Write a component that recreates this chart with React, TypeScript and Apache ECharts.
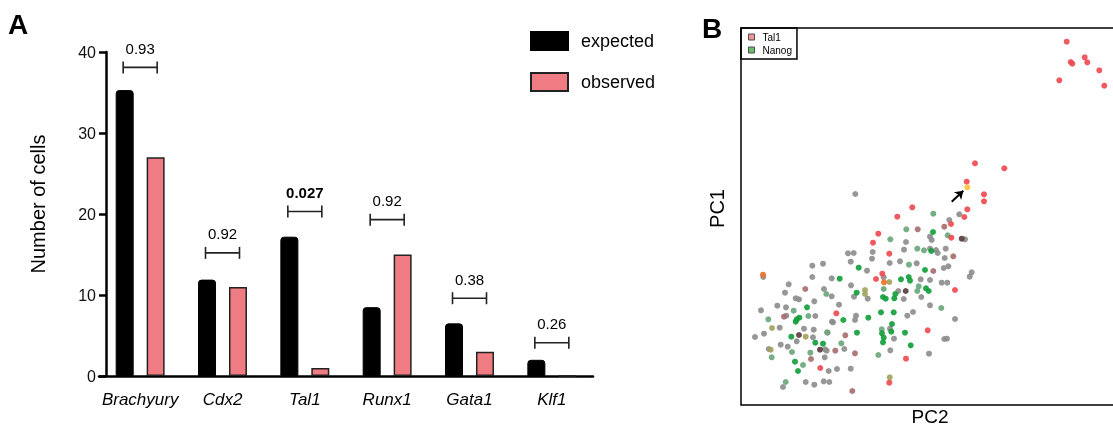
import React, { useEffect, useRef } from "react";
import * as echarts from "echarts";

const FONT = "'Liberation Sans', Arial, sans-serif";

// ---------- Panel A data ----------
const categories = ["Brachyury", "Cdx2", "Tal1", "Runx1", "Gata1", "Klf1"];
const expected = [35.3, 11.9, 17.2, 8.5, 6.5, 2.0];
const observed = [27, 11, 1, 15, 3, 0];
const pValues = ["0.93", "0.92", "0.027", "0.92", "0.38", "0.26"];
const pSignificant = [false, false, true, false, false, false];
const bracketLevels = [38.1, 15.2, 20.3, 19.3, 9.6, 4.1];
const yTicks = { min: 0, max: 40, interval: 10 };

// ---------- Panel B data (PC2, PC1 in arbitrary units) ----------
const tal1Points: [number, number][] = [
  [225.7, 223.3], [243, 210.7], [243, 203.7], [171.3, 197.7], [156.3, 188.3],
  [226.3, 195.7], [223.3, 188], [210, 181], [210.3, 167.3], [137.3, 171.3],
  [132, 162.3], [148.3, 151.3], [141.3, 131.3], [135, 126], [214, 115],
  [95.3, 91.7], [186.7, 74.7], [165, 46.3], [79.3, 37], [148.3, 22.3],
  [234, 241.7], [263.3, 236.7],
  [325.7, 363.3], [318.3, 324.7], [329.7, 343], [331.3, 341.3], [343.7, 347.7],
  [346.3, 342.7], [358.3, 334.7], [363.3, 319.3],
];
const nanogPoints: [number, number][] = [
  [192, 173], [190.3, 154], [117.7, 137.3], [184, 135], [98.7, 126.3],
  [160, 125.7], [167.7, 128], [169, 124.3], [115.7, 112.3], [142, 108],
  [144.7, 106.3], [154.3, 111], [153.3, 106.7], [185, 116.7], [187.7, 114],
  [55.7, 85.7], [54.7, 83.3], [58.3, 87.3], [66, 97.7], [102.3, 85],
  [127.3, 87.3], [140, 92.7], [152.7, 92.7], [50.3, 68.3], [116, 72.3],
  [141, 71.7], [142.7, 67.3], [151, 81], [150.3, 73.3], [164, 72.3],
  [142, 62.7], [74.3, 62.3], [82, 61.3], [169.7, 59.7], [54, 43.3], [57, 34],
];
const nanogWeakPoints: [number, number][] = [
  [192.3, 191.3], [165.3, 175.7], [206.7, 169.7], [149.3, 165.7], [176.3, 156.3],
  [183, 154.7], [168, 140.3], [142.7, 116], [177.7, 118.7], [176.3, 114],
  [85.3, 111], [52.7, 94.3], [67.3, 89], [200.3, 97], [27.3, 85.7],
  [86, 72.7], [140.7, 75.7], [51, 53], [30.7, 47.7], [69.3, 52.3],
  [100.3, 61.7], [137.3, 50], [62, 40], [44.7, 23],
];
const tal1WeakPoints: [number, number][] = [
  [176.7, 175.7], [203.3, 178.3], [212.3, 148.7], [192.3, 134], [64.3, 116],
  [43, 88.3], [104.3, 69.7], [94.3, 54.3], [114, 51.7], [70, 46], [111.3, 14],
];
const bothWeakPoints: [number, number][] = [
  [148.3, 123], [124, 115], [124, 111], [31, 77], [64.7, 68.3], [29.7, 55.3], [148.7, 27.7],
];
const darkPoints: [number, number][] = [
  [220.7, 166.3], [164.7, 114], [58, 70], [79, 55.3],
];
const orangePoints: [number, number][] = [[22, 130.3], [143, 122.7]];
const highlightedPoint: [number, number][] = [[226.3, 217.7]];
const arrowFrom: [number, number] = [210.7, 203.3];
const arrowTo: [number, number] = [222.3, 214.3];
const otherPoints: [number, number][] = [
  [114.3, 211], [218.3, 190.7], [208.3, 185], [224, 165.7], [165, 163], [189, 168.3],
  [190.7, 165], [107, 151.7], [112.7, 152], [131.7, 153], [131, 146.3],
  [163, 155.3], [189, 156.3], [195, 155], [204.7, 156.3], [196.7, 152],
  [203.7, 147], [159, 143.7], [148.7, 142], [175.7, 141.7], [109.7, 143.3],
  [82, 141.3], [71.3, 139.3], [126, 134.3], [202.7, 137], [207.3, 138.7],
  [230.7, 132.7], [228.7, 128.3], [22.3, 128], [71.3, 128], [90.7, 126.7],
  [110, 119.7], [142.7, 127.7], [179.7, 125.7], [189, 125], [200.7, 122.3],
  [206.3, 122.3], [47.7, 120.7], [83, 116], [90.7, 108.7], [113, 108.3],
  [126.7, 106.3], [157.3, 114], [180.3, 108], [162.7, 106], [44, 112.3],
  [54.7, 106.7], [58, 105.7], [73.3, 103.7], [36.3, 99.3], [98, 100.3],
  [20, 94.7], [45, 97.7], [74.3, 89], [45.3, 89.3], [91, 83.3], [114, 85],
  [115, 89.3], [166.3, 89.3], [172, 93], [189, 99.7], [214, 86], [38.7, 77.3],
  [23, 71.3], [14, 68], [55.7, 63.7], [63, 76.3], [72.7, 75.3], [72, 67.7],
  [86.7, 72.3], [92, 82.7], [149, 76.3], [153, 66.3], [39.7, 60.3], [46.7, 58.3],
  [27.7, 56], [84, 55.7], [85.7, 54.3], [103.3, 56], [149.3, 54.7], [188, 51.3],
  [203.3, 66], [206, 66.3], [83.7, 47.7], [87.7, 34], [96, 36], [109.7, 36.3],
  [42, 18], [64.7, 23], [73.3, 20.3], [82.7, 23.7], [88.3, 23],
];

export default function App() {
  const ref = useRef<HTMLDivElement>(null);
  useEffect(() => {
    if (!ref.current) return;
    const chart = echarts.init(ref.current, null, { renderer: "svg" });

    const scatter = (name: string, data: [number, number][], color: string, extra: any = {}) => ({
      name,
      type: "scatter",
      xAxisIndex: 1,
      yAxisIndex: 1,
      data,
      symbolSize: 6,
      itemStyle: { color, opacity: 0.92 },
      silent: true,
      ...extra,
    });

    chart.setOption({
      animation: false,
      textStyle: { fontFamily: FONT },
      graphic: [
        { type: "text", left: 8, top: 10, style: { text: "A", fontSize: 28, fontWeight: "bold", fill: "#000", fontFamily: FONT } },
        { type: "text", left: 702, top: 14, style: { text: "B", fontSize: 28, fontWeight: "bold", fill: "#000", fontFamily: FONT } },
      ],
      legend: [
        {
          data: ["expected", "observed"],
          left: 525,
          top: 26,
          orient: "vertical",
          itemWidth: 37,
          itemHeight: 18,
          itemGap: 21,
          icon: "rect",
          textStyle: { fontSize: 18, color: "#000", padding: [0, 0, 0, 8], fontFamily: FONT },
        },
        {
          data: [
            { name: "Tal1", itemStyle: { color: "#f08b91", borderColor: "#444", borderWidth: 1 } },
            { name: "Nanog", itemStyle: { color: "#5cb85c", borderColor: "#444", borderWidth: 1 } },
          ],
          left: 741,
          top: 28,
          orient: "vertical",
          itemWidth: 6,
          itemHeight: 6,
          itemGap: 3,
          icon: "rect",
          padding: [4, 5, 4, 7],
          borderColor: "#000",
          borderWidth: 1.5,
          textStyle: { fontSize: 10, color: "#000", padding: [0, 0, 0, 3], fontFamily: FONT },
        },
      ],
      grid: [
        { left: 99, right: 520, top: 52, bottom: 51, outerBoundsMode: "none", containLabel: false },
        {
          left: 741, right: -6, top: 28, bottom: 22, show: true, borderColor: "#000", borderWidth: 1.5,
          outerBoundsMode: "none", containLabel: false,
        },
      ],
      xAxis: [
        {
          gridIndex: 0,
          type: "category",
          data: categories,
          axisLine: { lineStyle: { color: "#000", width: 2.5 } },
          axisTick: { alignWithLabel: true, length: 7, lineStyle: { color: "#000", width: 2.5 } },
          axisLabel: { interval: 0, fontSize: 17, fontStyle: "italic", color: "#000", margin: 15, fontFamily: FONT },
        },
        {
          gridIndex: 1,
          type: "value",
          min: 0,
          max: 378,
          axisLine: { show: false },
          axisTick: { show: false },
          axisLabel: { show: false },
          splitLine: { show: false },
          name: "PC2",
          nameLocation: "middle",
          nameGap: 2,
          nameTextStyle: { fontSize: 19, color: "#000", verticalAlign: "top", lineHeight: 19, fontFamily: FONT },
        },
      ],
      yAxis: [
        {
          gridIndex: 0,
          type: "value",
          min: yTicks.min,
          max: yTicks.max,
          interval: yTicks.interval,
          offset: -7,
          axisLine: { show: true, lineStyle: { color: "#000", width: 2.5 } },
          axisTick: { show: true, length: 7, lineStyle: { color: "#000", width: 2.5 } },
          axisLabel: { fontSize: 16, color: "#111", margin: 10, fontFamily: FONT },
          splitLine: { show: false },
          name: "Number of cells",
          nameLocation: "middle",
          nameGap: 58,
          nameTextStyle: { fontSize: 20, color: "#000", padding: [0, 0, 0, 20], fontFamily: FONT },
        },
        {
          gridIndex: 1,
          type: "value",
          min: 0,
          max: 377,
          axisLine: { show: false },
          axisTick: { show: false },
          axisLabel: { show: false },
          splitLine: { show: false },
          name: "PC1",
          nameLocation: "middle",
          nameGap: 14,
          nameTextStyle: { fontSize: 20, color: "#000", padding: [0, 0, 0, 16], fontFamily: FONT },
        },
      ],
      series: [
        {
          name: "expected",
          type: "bar",
          data: expected,
          barWidth: 18,
          barGap: "72%",
          itemStyle: { color: "#000", borderColor: "#000", borderWidth: 1, borderRadius: [3, 3, 0, 0] },
          silent: true,
        },
        {
          name: "observed",
          type: "bar",
          data: observed,
          barWidth: 18,
          itemStyle: { color: "#ef7c82", borderColor: "#222", borderWidth: 1.5 },
          silent: true,
        },
        {
          name: "p",
          type: "custom",
          data: bracketLevels.map((v, i) => [i, v]),
          silent: true,
          z: 5,
          renderItem: (params: any, api: any) => {
            const idx = api.value(0);
            const lvl = api.value(1);
            const [cx, cy] = api.coord([idx, lvl]);
            const half = 17;
            const cap = 6;
            const ls = { stroke: "#222", lineWidth: 1.6 };
            return {
              type: "group",
              children: [
                { type: "line", shape: { x1: cx - half, y1: cy, x2: cx + half, y2: cy }, style: ls },
                { type: "line", shape: { x1: cx - half, y1: cy - cap, x2: cx - half, y2: cy + cap }, style: ls },
                { type: "line", shape: { x1: cx + half, y1: cy - cap, x2: cx + half, y2: cy + cap }, style: ls },
                {
                  type: "text",
                  x: cx,
                  y: cy - 19,
                  style: {
                    text: pValues[params.dataIndex],
                    fontSize: 15,
                    fontWeight: pSignificant[params.dataIndex] ? "bold" : "normal",
                    fill: "#000",
                    align: "center",
                    verticalAlign: "middle",
                    fontFamily: FONT,
                  },
                },
              ],
            };
          },
        },
        scatter("other", otherPoints, "#8e8e8e"),
        scatter("Nanog (low)", nanogWeakPoints, "#6aa77c"),
        scatter("Tal1 (low)", tal1WeakPoints, "#a8706f"),
        scatter("both (low)", bothWeakPoints, "#a2a45f"),
        scatter("both", darkPoints, "#5b3f3f"),
        scatter("Nanog", nanogPoints, "#15a03c"),
        scatter("Tal1", tal1Points, "#ee4b52"),
        scatter("Tal1 + Nanog", orangePoints, "#f0702a"),
        scatter("highlighted", highlightedPoint, "#fdc13e", {
          markLine: {
            silent: true,
            symbol: ["none", "arrow"],
            symbolSize: 8,
            label: { show: false },
            lineStyle: { color: "#000", width: 2, type: "solid" },
            data: [[{ coord: arrowFrom }, { coord: arrowTo }]],
          },
        }),
      ],
    });
    return () => chart.dispose();
  }, []);
  return <div ref={ref} style={{ position: "fixed", left: 0, top: 0, width: 1113, height: 427 }} />;
}
